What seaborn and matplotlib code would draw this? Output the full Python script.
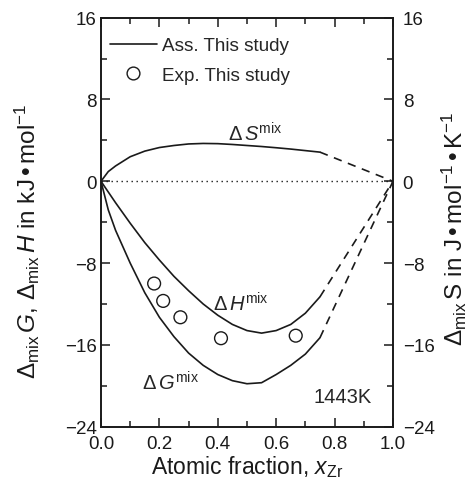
import matplotlib
matplotlib.use("Agg")
import matplotlib.pyplot as plt
from matplotlib.lines import Line2D
from matplotlib.ticker import MultipleLocator, FormatStrFormatter, FuncFormatter
import seaborn as sns
import pandas as pd

# ---- data ----
x_calc = [0.0, 0.025, 0.05, 0.1, 0.15, 0.2, 0.25, 0.3, 0.35, 0.4, 0.45, 0.5, 0.55, 0.6, 0.65, 0.7, 0.75]
dH_calc = [0.0, -1.05, -2.1, -4.1, -6.0, -7.7, -9.3, -10.7, -12.0, -13.1, -14.0, -14.6, -14.85, -14.6, -14.0, -12.9, -11.3]
dG_calc = [0.0, -2.8, -4.8, -8.0, -10.9, -13.3, -15.2, -16.8, -18.0, -18.9, -19.5, -19.8, -19.7, -18.9, -18.0, -16.9, -15.3]
dS_calc = [0.0, 0.95, 1.5, 2.4, 2.95, 3.3, 3.5, 3.65, 3.7, 3.68, 3.6, 3.5, 3.4, 3.28, 3.15, 3.0, 2.85]

x_ext = [0.75, 1.0]
dH_ext = [-11.3, 0.0]
dG_ext = [-15.3, 0.0]
dS_ext = [2.85, 0.0]

x_exp = [0.182, 0.213, 0.272, 0.411, 0.667]
dH_exp = [-10.0, -11.7, -13.3, -15.35, -15.1]

legend_labels = ["Ass. This study", "Exp. This study"]
temperature_label = "1443K"

# ---- style ----
sns.set_theme(style="ticks")
plt.rcParams["font.family"] = ["Liberation Sans", "DejaVu Sans"]
plt.rcParams["mathtext.fontset"] = "custom"
plt.rcParams["mathtext.rm"] = "Liberation Sans"
plt.rcParams["mathtext.it"] = "Liberation Sans:italic"
plt.rcParams["mathtext.bf"] = "Liberation Sans:bold"

fig = plt.figure(figsize=(4.73, 4.89), dpi=100)
ax = fig.add_axes([0.2135, 0.1254, 0.6173, 0.8364])

calc = pd.DataFrame({"x": x_calc, "H": dH_calc, "G": dG_calc, "S": dS_calc})
ext = pd.DataFrame({"x": x_ext, "H": dH_ext, "G": dG_ext, "S": dS_ext})
exp = pd.DataFrame({"x": x_exp, "H": dH_exp})

lw = 1.2
for col in ["H", "G", "S"]:
    sns.lineplot(data=calc, x="x", y=col, ax=ax, color="k", lw=lw,
                 sort=False, estimator=None)
    sns.lineplot(data=ext, x="x", y=col, ax=ax, color="k", lw=lw,
                 sort=False, estimator=None, linestyle=(0, (5, 4)))

ax.plot([0, 1], [0, 0], color="k", lw=1.0, linestyle=(0, (1, 2.6)))

sns.scatterplot(data=exp, x="x", y="H", ax=ax, marker="o", s=85,
                facecolor="none", edgecolor="k", linewidth=1.0, zorder=5)

tick_fs = 13.5
minus_fmt = FuncFormatter(lambda v, p: f"{int(v)}".replace("-", "\u2212"))

ax.set_xlim(0, 1)
ax.set_ylim(-24, 16)
ax.xaxis.set_major_locator(MultipleLocator(0.2))
ax.xaxis.set_minor_locator(MultipleLocator(0.1))
ax.yaxis.set_major_locator(MultipleLocator(8))
ax.yaxis.set_minor_locator(MultipleLocator(4))
ax.xaxis.set_major_formatter(FormatStrFormatter("%.1f"))
ax.yaxis.set_major_formatter(minus_fmt)

for s in ax.spines.values():
    s.set_linewidth(1.2)
    s.set_color("k")

ax.tick_params(axis="both", which="both", direction="in", top=True, right=True,
               color="k", width=1.1, labelsize=tick_fs, labelcolor="k")
ax.tick_params(axis="both", which="major", length=6.5)
ax.tick_params(axis="both", which="minor", length=4.5)
ax.tick_params(axis="x", which="major", pad=6)
ax.tick_params(axis="y", which="major", pad=3)

ax2 = ax.twinx()
ax2.set_ylim(-24, 16)
ax2.yaxis.set_major_locator(MultipleLocator(8))
ax2.yaxis.set_minor_locator(MultipleLocator(4))
ax2.yaxis.set_major_formatter(minus_fmt)
ax2.tick_params(axis="y", which="both", direction="in", color="k", width=1.1,
                labelsize=tick_fs, labelcolor="k")
ax2.tick_params(axis="y", which="major", length=6.5, pad=7)
ax2.tick_params(axis="y", which="minor", length=4.5)
for s in ax2.spines.values():
    s.set_linewidth(1.2)
    s.set_color("k")

ax.set_xlabel(r"Atomic fraction, $\mathit{x}_{\mathrm{Zr}}$", fontsize=16.5, color="k", labelpad=1)
ax.set_ylabel(r"$\mathit{\Delta}_{\mathrm{mix}}\,\mathit{G}$, $\mathit{\Delta}_{\mathrm{mix}}\,\mathit{H}$ in kJ$\,$•$\,$mol$^{-1}$",
              fontsize=17.5, color="k")
ax.yaxis.set_label_coords(-0.202, 0.455)
ax2.set_ylabel(r"$\mathit{\Delta}_{\mathrm{mix}}\,\mathrm{S}$ in J$\,$•$\,$mol$^{-1}$$\,$•$\,$K$^{-1}$", fontsize=17.5, color="k")
ax2.yaxis.set_label_coords(1.161, 0.485)

ann_fs = 14.5
ax.text(0.435, 3.94, r"$\mathit{\Delta\,S}^{\mathrm{mix}}$", fontsize=ann_fs, ha="left", va="baseline")
ax.text(0.385, -12.65, r"$\mathit{\Delta\,H}^{\mathrm{mix}}$", fontsize=ann_fs, ha="left", va="baseline")
ax.text(0.139, -20.4, r"$\mathit{\Delta\,G}^{\mathrm{mix}}$", fontsize=ann_fs, ha="left", va="baseline")
ax.text(0.927, -21.6, temperature_label, fontsize=ann_fs, ha="right", va="baseline")

handles = [Line2D([], [], color="k", lw=lw),
           Line2D([], [], color="none", marker="o", markersize=9.2,
                  markerfacecolor="none", markeredgecolor="k", markeredgewidth=1.0)]
ax.legend(handles, legend_labels, loc="upper left", bbox_to_anchor=(0.03, 0.953),
          frameon=False, fontsize=13.6, handlelength=2.49, handletextpad=0.26,
          labelspacing=0.66, borderaxespad=0, borderpad=0)

fig.savefig("out.png", dpi=100)
